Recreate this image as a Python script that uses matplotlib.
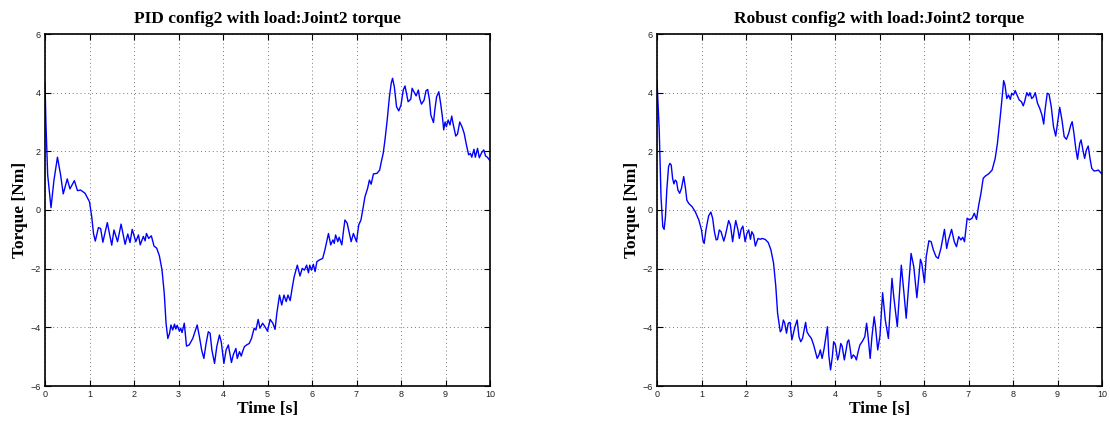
import matplotlib
matplotlib.use("Agg")
import matplotlib.pyplot as plt

pid_t = [0.0, 0.02, 0.06, 0.135, 0.2, 0.28, 0.35, 0.41, 0.5, 0.56,
         0.66, 0.73, 0.8, 0.9, 1.0, 1.05, 1.09, 1.13, 1.2, 1.25,
         1.3, 1.4, 1.5, 1.55, 1.63, 1.71, 1.8, 1.86, 1.91, 1.96,
         2.04, 2.1, 2.14, 2.21, 2.25, 2.28, 2.33, 2.39, 2.45, 2.51,
         2.57, 2.63, 2.68, 2.72, 2.76, 2.8, 2.83, 2.87, 2.91, 2.94,
         2.97, 3.02, 3.05, 3.08, 3.13, 3.18, 3.24, 3.32, 3.42, 3.47,
         3.52, 3.57, 3.62, 3.67, 3.71, 3.75, 3.81, 3.86, 3.92, 3.96,
         4.02, 4.07, 4.12, 4.16, 4.19, 4.23, 4.29, 4.32, 4.37, 4.41,
         4.44, 4.48, 4.53, 4.59, 4.64, 4.7, 4.74, 4.79, 4.83, 4.89,
         4.94, 5.0, 5.06, 5.12, 5.17, 5.21, 5.27, 5.32, 5.37, 5.42,
         5.46, 5.51, 5.56, 5.6, 5.67, 5.73, 5.78, 5.83, 5.88, 5.92,
         5.95, 5.99, 6.03, 6.07, 6.11, 6.17, 6.24, 6.29, 6.37, 6.42,
         6.47, 6.5, 6.53, 6.58, 6.61, 6.67, 6.71, 6.74, 6.79, 6.84,
         6.88, 6.93, 7.0, 7.05, 7.1, 7.14, 7.19, 7.25, 7.29, 7.33,
         7.38, 7.46, 7.52, 7.55, 7.6, 7.64, 7.69, 7.74, 7.78, 7.81,
         7.85, 7.9, 7.95, 8.0, 8.05, 8.09, 8.13, 8.16, 8.22, 8.25,
         8.29, 8.34, 8.39, 8.42, 8.46, 8.52, 8.56, 8.6, 8.64, 8.67,
         8.73, 8.76, 8.8, 8.85, 8.89, 8.93, 8.96, 8.99, 9.02, 9.06,
         9.1, 9.14, 9.17, 9.23, 9.27, 9.32, 9.37, 9.42, 9.47, 9.52,
         9.56, 9.59, 9.64, 9.67, 9.72, 9.76, 9.81, 9.86, 9.9, 9.94,
         10.0]
pid_torque = [4.35, 3.0, 1.2, 0.08, 1.0, 1.8, 1.2, 0.55, 1.06, 0.72,
              1.0, 0.66, 0.68, 0.57, 0.28, -0.23, -0.8, -1.06, -0.6, -0.63,
              -1.1, -0.43, -1.2, -0.68, -1.08, -0.48, -1.17, -0.82, -1.11, -0.66,
              -1.08, -0.85, -1.19, -0.9, -1.05, -0.8, -0.97, -0.88, -1.23, -1.3,
              -1.56, -2.05, -2.84, -3.86, -4.38, -4.2, -3.92, -4.09, -3.89, -4.06,
              -3.93, -4.13, -4.03, -4.18, -3.86, -4.64, -4.6, -4.38, -3.92, -4.32,
              -4.77, -5.06, -4.55, -4.15, -4.2, -4.77, -5.23, -4.66, -4.26, -4.49,
              -5.23, -4.77, -4.6, -4.94, -5.2, -4.94, -4.72, -5.06, -4.83, -4.98,
              -4.83, -4.66, -4.6, -4.55, -4.38, -4.03, -4.09, -3.73, -4.03, -3.86,
              -3.97, -4.13, -3.73, -3.86, -4.07, -3.52, -2.9, -3.24, -2.9, -3.12,
              -2.9, -3.09, -2.61, -2.27, -1.88, -2.25, -1.99, -2.05, -1.88, -2.14,
              -1.88, -2.05, -1.85, -2.1, -1.76, -1.7, -1.65, -1.36, -0.8, -1.19,
              -1.02, -1.14, -0.85, -1.08, -0.93, -1.19, -0.68, -0.34, -0.45, -0.8,
              -1.08, -0.8, -1.08, -0.51, -0.34, 0.0, 0.45, 0.74, 1.02, 0.88,
              1.23, 1.25, 1.36, 1.59, 1.93, 2.39, 3.07, 3.86, 4.32, 4.49,
              4.2, 3.52, 3.38, 3.58, 4.09, 4.23, 3.92, 3.69, 3.78, 4.15,
              4.03, 3.89, 4.09, 3.8, 3.61, 3.75, 4.06, 4.11, 3.75, 3.24,
              2.98, 3.41, 3.86, 4.03, 3.64, 3.18, 2.73, 3.0, 2.84, 3.07,
              2.9, 3.2, 2.95, 2.52, 2.59, 3.0, 2.84, 2.61, 2.22, 1.88,
              1.93, 1.8, 2.07, 1.8, 2.1, 1.78, 1.95, 2.05, 1.84, 1.8,
              1.68]

rob_t = [0.0, 0.05, 0.09, 0.13, 0.16, 0.19, 0.22, 0.26, 0.29, 0.32,
         0.35, 0.38, 0.41, 0.44, 0.47, 0.51, 0.55, 0.6, 0.64, 0.67,
         0.71, 0.79, 0.86, 0.94, 1.0, 1.03, 1.06, 1.1, 1.16, 1.21,
         1.25, 1.29, 1.33, 1.36, 1.4, 1.44, 1.46, 1.5, 1.53, 1.57,
         1.61, 1.65, 1.7, 1.74, 1.77, 1.82, 1.85, 1.89, 1.93, 1.98,
         2.02, 2.06, 2.1, 2.13, 2.17, 2.21, 2.27, 2.32, 2.36, 2.43,
         2.5, 2.56, 2.62, 2.67, 2.71, 2.77, 2.8, 2.84, 2.87, 2.91,
         2.95, 2.99, 3.03, 3.06, 3.1, 3.15, 3.19, 3.23, 3.27, 3.3,
         3.34, 3.37, 3.41, 3.47, 3.52, 3.56, 3.6, 3.64, 3.67, 3.71,
         3.75, 3.79, 3.83, 3.86, 3.9, 3.94, 3.97, 4.01, 4.06, 4.09,
         4.13, 4.16, 4.21, 4.25, 4.28, 4.31, 4.34, 4.37, 4.41, 4.45,
         4.48, 4.52, 4.56, 4.61, 4.67, 4.71, 4.74, 4.79, 4.83, 4.88,
         4.91, 4.96, 5.01, 5.07, 5.13, 5.2, 5.28, 5.32, 5.4, 5.49,
         5.55, 5.6, 5.71, 5.77, 5.84, 5.92, 5.95, 6.01, 6.05, 6.11,
         6.16, 6.21, 6.27, 6.32, 6.38, 6.46, 6.51, 6.55, 6.62, 6.68,
         6.73, 6.78, 6.83, 6.87, 6.91, 6.97, 7.02, 7.08, 7.13, 7.18,
         7.23, 7.28, 7.33, 7.38, 7.45, 7.53, 7.6, 7.65, 7.71, 7.75,
         7.79, 7.82, 7.86, 7.9, 7.94, 7.97, 8.01, 8.05, 8.09, 8.14,
         8.19, 8.23, 8.26, 8.31, 8.35, 8.38, 8.42, 8.46, 8.5, 8.55,
         8.6, 8.65, 8.69, 8.72, 8.77, 8.81, 8.86, 8.91, 8.96, 9.01,
         9.05, 9.1, 9.15, 9.2, 9.25, 9.3, 9.33, 9.37, 9.41, 9.45,
         9.5, 9.53, 9.57, 9.61, 9.65, 9.69, 9.73, 9.77, 9.82, 9.87,
         9.92, 9.97, 10.0]
rob_torque = [4.4, 2.73, 0.45, -0.57, -0.66, -0.23, 0.68, 1.48, 1.59, 1.53,
              1.08, 0.89, 1.02, 0.97, 0.68, 0.57, 0.74, 1.14, 0.74, 0.34,
              0.23, 0.11, -0.06, -0.34, -0.68, -1.02, -1.14, -0.68, -0.2, -0.07,
              -0.28, -0.74, -1.02, -1.0, -0.68, -0.74, -0.85, -1.06, -0.91, -0.63,
              -0.36, -0.51, -1.08, -0.63, -0.36, -0.68, -0.97, -0.66, -0.55, -1.08,
              -0.8, -0.68, -1.0, -0.74, -0.85, -1.23, -0.97, -1.0, -0.97, -1.0,
              -1.11, -1.36, -1.82, -2.61, -3.52, -4.15, -4.09, -3.75, -3.86, -4.2,
              -3.86, -3.83, -4.43, -4.23, -3.98, -3.75, -4.32, -4.49, -4.38, -4.15,
              -3.83, -4.15, -4.26, -4.38, -4.6, -4.83, -5.06, -4.94, -4.77, -5.06,
              -4.77, -4.38, -3.98, -4.94, -5.45, -5.0, -4.49, -4.6, -5.11, -4.94,
              -4.55, -4.64, -5.11, -4.77, -4.49, -4.43, -4.72, -5.06, -4.94, -5.0,
              -5.11, -4.83, -4.6, -4.49, -4.32, -3.86, -4.26, -5.06, -4.32, -3.64,
              -3.98, -4.77, -4.3, -2.82, -3.75, -4.38, -2.33, -2.95, -3.98, -1.88,
              -2.84, -3.69, -1.48, -1.93, -2.99, -1.68, -1.82, -2.48, -1.59, -1.05,
              -1.08, -1.36, -1.59, -1.65, -1.31, -0.66, -1.31, -1.02, -0.66, -1.08,
              -1.25, -0.91, -1.02, -0.93, -1.08, -0.28, -0.34, -0.28, -0.11, -0.32,
              0.17, 0.57, 1.08, 1.16, 1.23, 1.36, 1.76, 2.27, 3.13, 3.75,
              4.41, 4.26, 3.8, 3.92, 3.77, 3.98, 3.92, 4.07, 3.92, 3.75,
              3.69, 3.55, 3.69, 4.0, 3.89, 4.0, 3.8, 3.86, 4.0, 3.64,
              3.47, 3.24, 2.93, 3.41, 3.98, 3.95, 3.52, 2.84, 2.52, 3.07,
              3.5, 3.07, 2.5, 2.41, 2.61, 2.9, 3.01, 2.61, 2.1, 1.73,
              2.27, 2.39, 2.05, 1.76, 2.05, 2.18, 1.76, 1.42, 1.33, 1.34,
              1.36, 1.27, 1.23]

titles = ["PID config2 with load:Joint2 torque", "Robust config2 with load:Joint2 torque"]
xlabel = "Time [s]"
ylabel = "Torque [Nm]"
xticks = list(range(0, 11))
yticks = [-6, -4, -2, 0, 2, 4, 6]

fig = plt.figure(figsize=(11.1, 4.24), dpi=100)
positions = [[45/1110, 38/424, 445/1110, 352/424],
             [657/1110, 38/424, 445/1110, 352/424]]
series = [(pid_t, pid_torque), (rob_t, rob_torque)]

serif = ["Liberation Serif", "DejaVu Serif"]
sans = ["Liberation Sans", "DejaVu Sans"]

for pos, (t, y), title in zip(positions, series, titles):
    ax = fig.add_axes(pos)
    ax.plot(t, y, color=(0, 0, 1), linewidth=1.0)
    ax.set_xlim(0, 10)
    ax.set_ylim(-6, 6)
    ax.set_xticks(xticks)
    ax.set_yticks(yticks)
    ax.grid(True, linestyle=(0, (1, 3)), color="#777777", linewidth=0.7)
    ax.tick_params(direction="in", top=True, right=True, length=4, width=0.8,
                   labelsize=6.5, pad=3, colors="black", labelcolor="#222222")
    for lab in ax.get_xticklabels() + ax.get_yticklabels():
        lab.set_family(sans)
    for sp in ax.spines.values():
        sp.set_linewidth(1.2)
    ax.set_title(title, family=serif, fontweight="bold", fontsize=12.5, pad=8)
    ax.set_xlabel(xlabel, family=serif, fontweight="bold", fontsize=12.5, labelpad=1)
    ax.set_ylabel(ylabel, family=serif, fontweight="bold", fontsize=12.5, labelpad=2)

fig.savefig("out.png", dpi=100)
